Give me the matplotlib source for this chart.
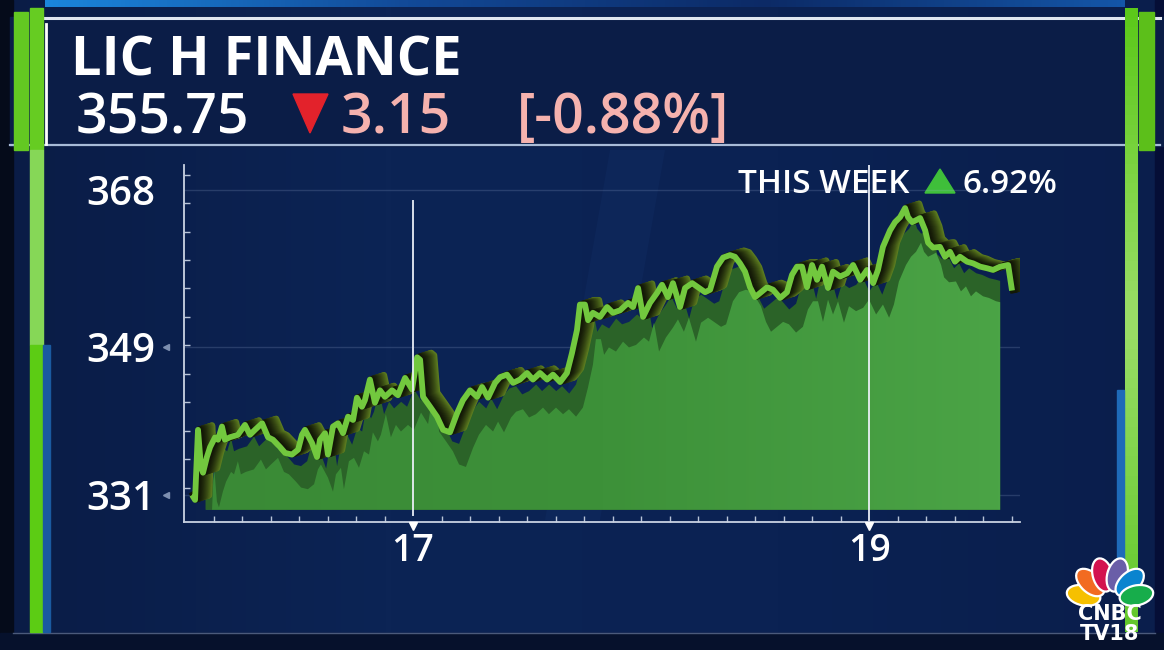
import matplotlib
import numpy as np

matplotlib.use("Agg")
import matplotlib.pyplot as plt  # noqa: E402
import matplotlib.transforms as mtrans  # noqa: E402
from matplotlib.colors import LinearSegmentedColormap, to_rgb  # noqa: E402
from matplotlib.patches import Ellipse, Polygon, Rectangle  # noqa: E402

W, H = 1164, 650

# intraday price, x in trading-day units (16 = Mon open)
day = [16.031, 16.044, 16.057, 16.070, 16.079, 16.096, 16.110, 16.132, 16.145, 16.162,
       16.175, 16.197, 16.232, 16.263, 16.285, 16.307, 16.338, 16.364, 16.386, 16.417,
       16.439, 16.469, 16.496, 16.513, 16.526, 16.557, 16.579, 16.592, 16.614, 16.627,
       16.649, 16.671, 16.693, 16.715, 16.737, 16.754, 16.776, 16.789, 16.811, 16.833,
       16.855, 16.877, 16.908, 16.934, 16.965, 16.996, 17.018, 17.031, 17.044, 17.075,
       17.105, 17.132, 17.162, 17.193, 17.219, 17.250, 17.281, 17.303, 17.329, 17.360,
       17.382, 17.412, 17.439, 17.469, 17.500, 17.526, 17.557, 17.588, 17.614, 17.645,
       17.675, 17.697, 17.719, 17.732, 17.754, 17.768, 17.789, 17.820, 17.851, 17.877,
       17.908, 17.943, 17.965, 17.987, 18.009, 18.039, 18.070, 18.092, 18.118, 18.140,
       18.171, 18.193, 18.224, 18.250, 18.281, 18.303, 18.333, 18.360, 18.390, 18.412,
       18.434, 18.456, 18.478, 18.500, 18.522, 18.553, 18.579, 18.610, 18.640, 18.662,
       18.684, 18.706, 18.728, 18.750, 18.772, 18.794, 18.820, 18.842, 18.873, 18.904,
       18.930, 18.961, 18.991, 19.018, 19.039, 19.061, 19.092, 19.114, 19.136, 19.158,
       19.171, 19.189, 19.211, 19.224, 19.246, 19.259, 19.281, 19.311, 19.333, 19.355,
       19.377, 19.399, 19.430, 19.456, 19.487, 19.518, 19.544, 19.575, 19.610, 19.627]
price = [331.0, 330.4, 338.9, 334.4, 333.7, 335.6, 336.8, 338.0, 337.7, 339.3,
         337.7, 338.0, 338.3, 339.5, 338.3, 338.9, 339.7, 338.0, 337.7, 336.8,
         336.1, 335.9, 336.5, 338.3, 338.9, 337.3, 335.6, 337.7, 338.5, 335.9,
         339.3, 339.7, 338.5, 340.5, 340.1, 342.8, 341.7, 342.5, 345.0, 342.2,
         343.7, 342.9, 343.7, 343.1, 345.2, 343.8, 347.7, 347.4, 342.9, 341.7,
         340.5, 338.9, 338.6, 340.9, 342.5, 343.7, 342.9, 344.1, 342.8, 344.6,
         345.3, 345.6, 344.6, 345.0, 345.8, 345.0, 345.8, 345.0, 345.6, 344.7,
         345.8, 348.2, 351.0, 354.1, 354.1, 352.2, 353.1, 352.6, 353.8, 353.1,
         353.4, 354.3, 353.8, 356.1, 352.6, 354.3, 355.5, 356.5, 355.0, 356.7,
         353.8, 356.1, 356.7, 356.2, 355.6, 355.9, 358.7, 359.8, 360.1, 359.9,
         359.1, 358.1, 356.2, 355.0, 355.5, 356.2, 355.9, 354.9, 355.6, 357.7,
         358.7, 358.7, 356.2, 358.9, 357.1, 358.7, 356.1, 358.1, 357.5, 357.9,
         358.9, 357.1, 358.3, 356.7, 358.3, 361.1, 363.1, 364.1, 364.7, 365.8,
         364.7, 364.1, 364.4, 364.6, 363.1, 361.6, 361.0, 361.1, 359.9, 360.5,
         359.3, 359.9, 359.3, 359.1, 358.7, 358.5, 358.3, 358.7, 358.9, 355.8]

stock = "LIC H FINANCE"
last_price = "355.75"
change = "3.15"
change_pct = "[-0.88%]"
week_label = "THIS WEEK"
week_change = "6.92%"
y_ticks = [331, 349, 368]
x_ticks = [17, 19]
x_ticklabels = ["17", "19"]

FONT = "Open Sans"
LINE = "#72c83e"
plt.rcParams["font.family"] = [FONT, "DejaVu Sans"]

t = np.asarray(day)
v = np.asarray(price)
base = 329.2
lo, hi = 16.09, 19.575


def area_poly(dt, dv):
    ts, vs = t + dt, v - dv
    m = (ts > lo) & (ts < hi)
    xs = np.r_[lo, lo, ts[m], hi, hi]
    ys = np.r_[base, np.interp(lo, ts, vs), vs[m], np.interp(hi, ts, vs), base]
    return np.column_stack([xs, ys])


def blend(c1, c2, f):
    a, b = np.array(to_rgb(c1)), np.array(to_rgb(c2))
    return tuple(a + (b - a) * f)


fig = plt.figure(figsize=(W / 100, H / 100), dpi=100)
fig.patch.set_facecolor("#0a1f4b")

# ---- backdrop (pixel coordinates)
bg = fig.add_axes([0, 0, 1, 1])
bg.set_xlim(0, W); bg.set_ylim(H, 0); bg.axis("off")
grad = np.linspace(0, 1, 256).reshape(1, -1)
body = LinearSegmentedColormap.from_list("body", ["#0a1c46", "#0c2455", "#0b2253", "#0a1e4c"])
bg.imshow(grad, extent=[0, W, H, 0], cmap=body, aspect="auto", zorder=0)
bg.add_patch(Polygon([(610, 150), (665, 150), (600, 520), (545, 520)], color="#1d4488", alpha=0.12, lw=0, zorder=1))
bg.add_patch(Rectangle((0, 0), 13, H, color="#050b1a", zorder=2))
bg.add_patch(Rectangle((1155, 0), 10, H, color="#050e36", zorder=2))
bg.add_patch(Rectangle((0, 633), W, 20, color="#06112c", zorder=2))
bg.plot([13, 1155], [633, 633], color="#7a8cb0", lw=1, alpha=0.6, zorder=3)

# header panel
bg.add_patch(Rectangle((10, 17), W, 129, color="#0b1d47", zorder=2))
topglow = LinearSegmentedColormap.from_list("glow", ["#1b86dc", "#124a98", "#0c2a66", "#1456a8"])
bg.imshow(grad, extent=[45, 1125, 7, 0], cmap=topglow, aspect="auto", zorder=2)
bg.plot([44, 1160], [18, 18], color="#dfe6f0", lw=2.2, zorder=3)
bg.plot([10, 1160], [145, 145], color="#a8bbd8", lw=1.6, zorder=3)
bg.plot([46, 46], [24, 144], color="white", lw=2, zorder=3)

# side bars
bg.add_patch(Rectangle((14, 12), 14, 138, color="#63c822", zorder=4))
bg.add_patch(Rectangle((30, 8), 13, 142, color="#66cc22", zorder=4))
bg.add_patch(Rectangle((30, 150), 13, 195, color="#86d757", zorder=4))
bg.add_patch(Rectangle((30, 345), 13, 287, color="#5ccc14", zorder=4))
bg.add_patch(Rectangle((43, 345), 7, 287, color="#1a5aa0", zorder=4))
side = LinearSegmentedColormap.from_list("side", ["#5cc91a", "#9bde68", "#62c82a"])
bg.imshow(np.linspace(0, 1, 64).reshape(-1, 1), extent=[1125, 1138, 632, 8], cmap=side,
          aspect="auto", zorder=4)
bg.add_patch(Rectangle((1139, 12), 15, 138, color="#5cbf1a", zorder=4))
bg.add_patch(Rectangle((1117, 390), 7, 170, color="#1e6ab8", zorder=4))

# header text
bg.text(71, 76, stock, fontsize=39, weight="bold", color="white", va="baseline", zorder=5)
bg.text(76, 133, last_price, fontsize=40, weight="semibold", color="white", va="baseline", zorder=5)
bg.add_patch(Polygon([(293, 94), (328, 94), (310, 133)], color="#e3222b", zorder=5))
bg.text(341, 133, change, fontsize=40, weight="semibold", color="#f5b2ae", va="baseline", zorder=5)
bg.text(517, 133, change_pct, fontsize=40, weight="semibold", color="#f5b2ae", va="baseline", zorder=5)
bg.text(909, 193, week_label, fontsize=24, weight="semibold", color="white", va="baseline",
        ha="right", zorder=5)
bg.add_patch(Polygon([(925, 193), (955, 193), (940, 169)], color="#3fbf3a", zorder=5))
bg.text(962, 193, week_change, fontsize=24, weight="semibold", color="white", va="baseline", zorder=5)

# CNBC TV18 logo
cx, cy = 1110, 601
feathers = ["#f6c000", "#f26b21", "#d3124f", "#6a5ea8", "#0a84cf", "#17ad4b"]
for ang, col in zip(np.linspace(168, 12, 6), feathers):
    a = np.radians(ang)
    bg.add_patch(Ellipse((cx + 27 * np.cos(a), cy - 27 * np.sin(a)), 34, 20, angle=-ang,
                         facecolor=col, edgecolor="white", lw=1.6, zorder=6))
bg.text(cx, 620, "CNBC", fontsize=15, weight="heavy", family=["DejaVu Sans"], color="white",
        ha="center", va="baseline", zorder=7)
bg.text(cx, 640, "TV18", fontsize=15, weight="heavy", family=["DejaVu Sans"], color="white",
        ha="center", va="baseline", zorder=7)

# ---- price chart
ax = fig.add_axes([184 / W, 1 - 522 / H, 836 / W, 357 / H])
ax.set_xlim(15.9956, 19.662)
ax.set_ylim(327.72, 371.03)
ax.patch.set_alpha(0)

for yv in y_ticks:
    ax.axhline(yv, color="#9db2d8", alpha=0.2, lw=1, zorder=1)

back = Polygon(area_poly(0.04, 1.4), color="#2b6328", lw=0, zorder=2)
ax.add_patch(back)
front = Polygon(area_poly(0.07, 4.2), color="none", lw=0, zorder=3)
ax.add_patch(front)
fill = LinearSegmentedColormap.from_list("fill", ["#3a8a36", "#3d9139", "#4ba446"])
im = ax.imshow(np.linspace(0, 1, 256).reshape(1, -1), extent=[lo, hi, base, 372], cmap=fill,
               aspect="auto", zorder=3)
im.set_clip_path(front)

# extruded ribbon behind the price line
n = 16
for k in range(n, 0, -1):
    f = k / n
    ax.plot(t + 0.062 * f, v + 0.55 * f, color=blend("#111506", "#5d7d20", f ** 1.5), lw=4.4,
            solid_joinstyle="round", zorder=4)
ax.plot(t, v, color=LINE, lw=4.2, solid_joinstyle="round", solid_capstyle="butt", zorder=6)

ax.axvline(17, ymin=0.02, ymax=0.9, color="#eef2fa", lw=1.4, alpha=0.9, zorder=7)
ax.axvline(19, ymin=0.005, ymax=1.0, color="#eef2fa", lw=1.4, alpha=0.9, zorder=7)
tb = mtrans.blended_transform_factory(ax.transData, ax.transAxes)
ax.plot(x_ticks, [-0.012] * 2, ls="none", marker="v", ms=6, color="white", transform=tb,
        clip_on=False, zorder=8)
ta = mtrans.blended_transform_factory(ax.transAxes, ax.transData)
ax.plot([-0.021] * 2, y_ticks[:2], ls="none", marker="<", ms=5, color="#7d8fb0", transform=ta,
        clip_on=False)

for s in ("top", "right"):
    ax.spines[s].set_visible(False)
for s in ("left", "bottom"):
    ax.spines[s].set_color("#c9d2e2")
    ax.spines[s].set_linewidth(1.3)

ax.set_yticks(y_ticks, [str(y) for y in y_ticks])
ax.set_xticks(x_ticks, x_ticklabels)
ax.set_yticks(np.arange(331.9, 371, 3.45), minor=True)
ax.set_xticks(np.arange(16.125, 19.66, 0.125), minor=True)
ax.tick_params(axis="y", length=0, pad=21, labelsize=29, labelcolor="white")
ax.tick_params(axis="x", length=0, pad=7, labelsize=27, labelcolor="white")
ax.tick_params(which="minor", direction="in", length=4.5, width=1, color="#b8c4d8")
for lab in ax.get_yticklabels() + ax.get_xticklabels():
    lab.set_fontweight("semibold")

fig.savefig("out.png", dpi=100, facecolor=fig.get_facecolor())
